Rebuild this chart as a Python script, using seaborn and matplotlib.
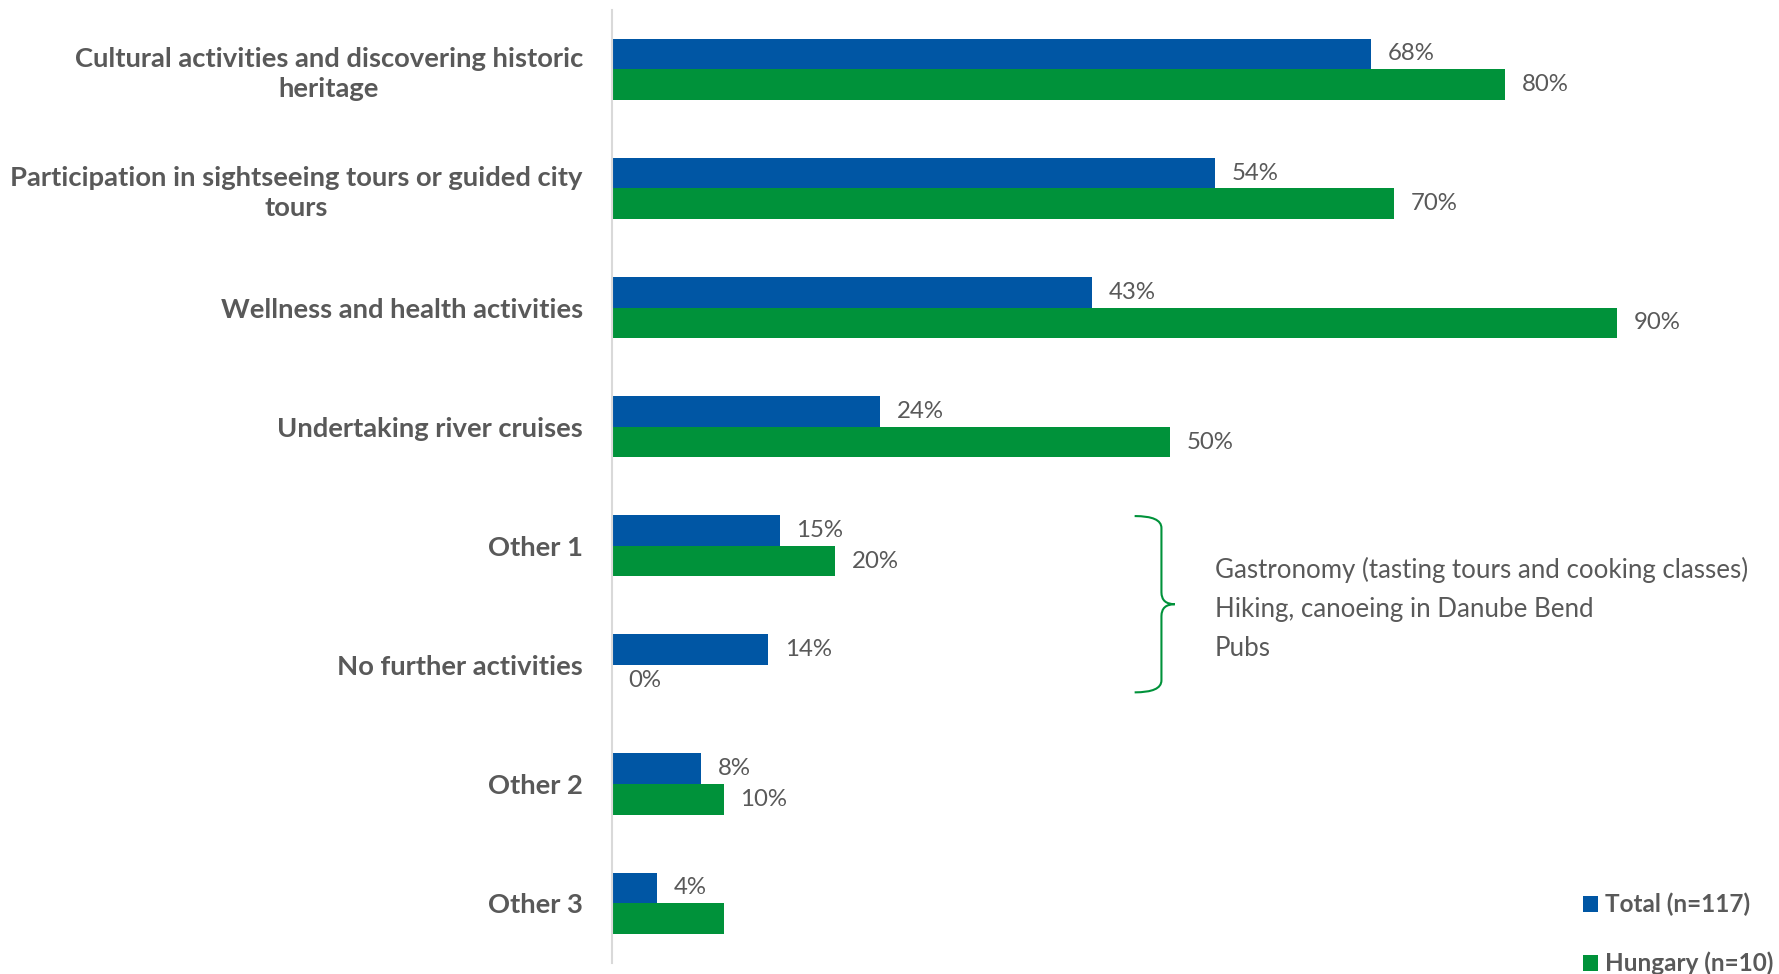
import matplotlib
matplotlib.use("Agg")
import matplotlib.pyplot as plt
from matplotlib.path import Path
from matplotlib.patches import PathPatch
from matplotlib.patches import Patch
import seaborn as sns
import pandas as pd

categories = [
    "Cultural activities and discovering historic\nheritage",
    "Participation in sightseeing tours or guided city\ntours",
    "Wellness and health activities",
    "Undertaking river cruises",
    "Other 1",
    "No further activities",
    "Other 2",
    "Other 3",
]
total_values = [68, 54, 43, 24, 15, 14, 8, 4]
hungary_values = [80, 70, 90, 50, 20, 0, 10, 10]
hungary_labels = ["80%", "70%", "90%", "50%", "20%", "0%", "10%", ""]
series_names = ["Total (n=117)", "Hungary (n=10)"]
other_details = [
    "Gastronomy (tasting tours and cooking classes)",
    "Hiking, canoeing in Danube Bend",
    "Pubs",
]

BLUE = "#0056A4"
GREEN = "#00923A"
GREY_TEXT = "#595959"
AXIS_GREY = "#D9D9D9"

df = pd.DataFrame({
    "category": categories * 2,
    "value": total_values + hungary_values,
    "series": [series_names[0]] * len(categories) + [series_names[1]] * len(categories),
})

sns.set_theme(style="white")
plt.rcParams["font.family"] = ["Lato", "DejaVu Sans"]

fig = plt.figure(figsize=(17.79, 9.74), dpi=100)
fig.patch.set_facecolor("white")
ax = fig.add_axes([612 / 1779, 0.0115, (1779 - 612) / 1779, 0.9785])
ax.patch.set_alpha(0)

sns.barplot(
    data=df, y="category", x="value", hue="series", orient="h",
    order=categories, hue_order=series_names,
    palette=[BLUE, GREEN], width=0.514, errorbar=None,
    saturation=1, linewidth=0, ax=ax, legend=False,
)

ax.set_xlim(0, 104.5)
ax.set_ylim(len(categories) - 0.5, -0.5)
ax.set_xlabel("")
ax.set_ylabel("")
ax.set_xticks([])

for side in ["top", "right", "bottom"]:
    ax.spines[side].set_visible(False)
ax.spines["left"].set_color(AXIS_GREY)
ax.spines["left"].set_linewidth(1.5)

ax.tick_params(axis="y", length=0, pad=21)
for lbl in ax.get_yticklabels():
    lbl.set_fontsize(19.7)
    lbl.set_fontweight("bold")
    lbl.set_color(GREY_TEXT)
    lbl.set_multialignment("center")
    lbl.set_linespacing(1.28)

total_labels = [f"{v}%" for v in total_values]
ax.bar_label(ax.containers[0], labels=total_labels, padding=12,
             fontsize=17.3, color=GREY_TEXT)
ax.bar_label(ax.containers[1], labels=hungary_labels, padding=12,
             fontsize=17.3, color=GREY_TEXT)

# Curly brace grouping the "Other" and "No further activities" rows
top = categories.index("Other 1") - 0.25
bot = categories.index("No further activities") + 0.23
mid = (top + bot) / 2
xl, xv, xt = 46.8, 49.2, 50.4
verts = [
    (xl, top), (xv, top), (xv, top + 0.1),
    (xv, mid - 0.1), (xv, mid), (xt, mid),
    (xv, mid), (xv, mid + 0.1),
    (xv, bot - 0.1), (xv, bot), (xl, bot),
]
codes = [
    Path.MOVETO, Path.CURVE3, Path.CURVE3,
    Path.LINETO, Path.CURVE3, Path.CURVE3,
    Path.CURVE3, Path.CURVE3,
    Path.LINETO, Path.CURVE3, Path.CURVE3,
]
ax.add_patch(PathPatch(Path(verts, codes), facecolor="none",
                       edgecolor=GREEN, linewidth=1.5))
ax.text(54.0, mid + 0.04, "\n".join(other_details), ha="left", va="center",
        fontsize=18.6, color=GREY_TEXT, linespacing=1.72)

handles = [Patch(facecolor=BLUE, edgecolor="none"),
           Patch(facecolor=GREEN, edgecolor="none")]
leg = fig.legend(handles, series_names, loc="upper left",
                 bbox_to_anchor=(1583 / 1779, 1 - 893 / 974),
                 frameon=False, borderaxespad=0, borderpad=0,
                 handlelength=0.62, handleheight=0.62, handletextpad=0.3,
                 labelspacing=1.45,
                 prop={"family": ["Lato", "DejaVu Sans"], "weight": "bold", "size": 17.5})
for t in leg.get_texts():
    t.set_color(GREY_TEXT)

fig.savefig("out.png", dpi=100)
